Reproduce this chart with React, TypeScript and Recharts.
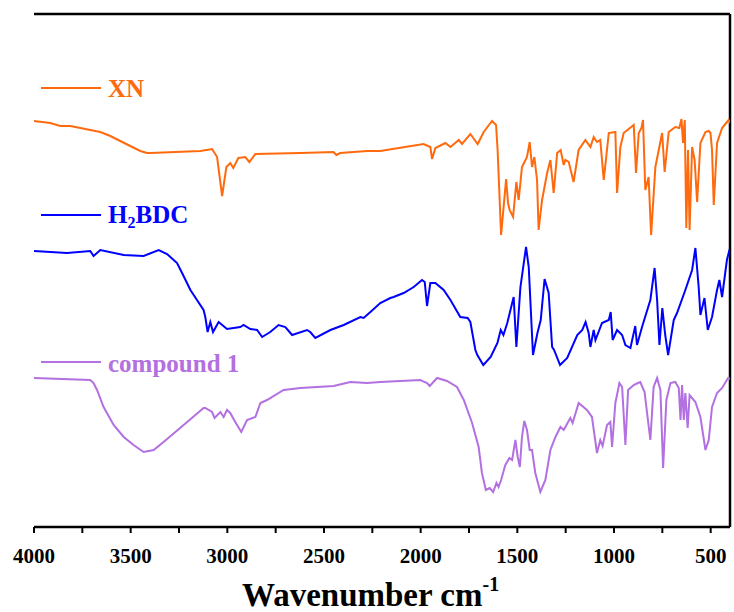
import React from "react";
import { LineChart, Line, XAxis, YAxis, ReferenceLine } from "recharts";

// FT-IR spectra, offset transmittance (a.u.) against wavenumber (cm-1)
const xnWavenumber = [
  4000, 3916, 3864, 3812, 3760, 3709, 3657, 3605, 3554, 3502, 3450, 3415, 3398, 3139, 3079, 3053, 3027,
  3005, 2985, 2969, 2943, 2907, 2886, 2855,
  2622, 2451, 2436, 2416, 2277, 2209, 1985, 1950, 1941, 1924, 1872, 1846, 1803, 1786, 1743, 1705, 1674,
  1631, 1610, 1602, 1584, 1571, 1558, 1548, 1540, 1522, 1505, 1493, 1476, 1450, 1436, 1424, 1412, 1398,
  1390, 1372, 1346, 1329, 1312, 1294, 1276, 1260, 1252, 1234, 1209, 1183, 1148, 1122, 1105, 1088, 1071,
  1053, 1027, 993, 984, 967, 950, 898, 886, 872, 858, 850, 838, 821, 808, 786, 751, 738, 717, 683, 662,
  651, 643, 634, 626, 617, 609, 596, 583, 570, 553, 527, 510, 501, 493, 484, 467, 441, 407, 400,
];
const xnSignal = [
  406, 404, 401, 401, 399, 397, 395, 391, 386, 381, 376, 374, 374, 376, 378, 370, 331,
  360, 364, 359, 369, 370, 365, 373,
  374, 375, 372, 374, 376, 376, 383, 380, 368, 379, 384, 380, 387, 383, 393, 383, 395,
  406, 402, 377, 292, 320, 348, 324, 317, 310, 345, 327, 360, 370, 385, 360, 370, 347,
  297, 327, 354, 367, 334, 374, 377, 362, 367, 365, 345, 377, 387, 380, 390, 385, 387,
  347, 394, 395, 334, 380, 394, 402, 354, 394, 399, 407, 337, 350, 292, 360, 394, 355, 395, 400, 399,
  408, 384, 407, 299, 377, 297, 380, 367, 325, 384, 395, 396, 394, 377, 322, 384, 399, 407, 404,
];

const bdcWavenumber = [
  4000, 3829, 3709, 3692, 3657, 3536, 3433, 3355, 3312, 3260, 3234, 3191, 3157, 3123, 3114, 3102, 3088,
  3074, 3045, 3002, 2933, 2916, 2881, 2846, 2820, 2778, 2735, 2700, 2665, 2588, 2571, 2545, 2467, 2398,
  2312, 2295, 2260, 2209, 2157, 2140, 2088, 2036, 1993, 1979, 1967, 1950, 1924, 1881, 1846, 1795, 1757,
  1743, 1717, 1707, 1676, 1638, 1603, 1586, 1572, 1552, 1519, 1505, 1484, 1455, 1441, 1419, 1396, 1379,
  1359, 1338, 1320, 1310, 1279, 1242, 1190, 1164, 1147, 1131, 1122, 1105, 1096, 1062, 1027, 1017, 1007,
  984, 958, 941, 915, 890, 881, 855, 812, 790, 777, 765, 750, 735, 720, 691, 674, 631, 596, 579, 562,
  553, 532, 515, 493, 467, 455, 441, 416, 403, 400,
];
const bdcSignal = [
  276, 274, 276, 271, 277, 272, 271, 277, 273, 264, 254, 237, 227, 217, 210, 195, 205,
  195, 205, 198, 200, 202, 198, 197, 190, 195, 202, 200, 192, 197, 195, 189, 197, 202,
  210, 209, 215, 224, 229, 230, 234, 240, 247, 245, 221, 244, 244, 237, 227, 210, 209,
  205, 177, 172, 162, 170, 184, 197, 192, 204, 230, 180, 240, 280, 260, 172, 194, 207,
  248, 234, 180, 177, 162, 169, 192, 197, 205, 194, 180, 197, 187, 204, 207, 215, 187,
  197, 192, 182, 179, 201, 182, 200, 227, 259, 227, 182, 219, 192, 172, 207, 214, 237, 257, 279, 240,
  212, 229, 197, 210, 237, 247, 230, 267, 277, 277,
];

const cpdWavenumber = [
  4000, 3709, 3692, 3674, 3640, 3588, 3536, 3485, 3433, 3381, 3330, 3226, 3123, 3114, 3079, 3066, 3036,
  3019, 3002, 2985, 2959, 2928, 2898, 2855, 2829, 2795, 2709, 2622, 2450, 2364, 2277, 2209, 2002, 1967,
  1953, 1915, 1864, 1812, 1777, 1734, 1700, 1683, 1663, 1643, 1625, 1608, 1597, 1584, 1562, 1541, 1527,
  1510, 1498, 1487, 1476, 1464, 1450, 1436, 1424, 1407, 1381, 1355, 1329, 1303, 1277, 1260, 1226, 1214,
  1183, 1140, 1114, 1088, 1071, 1059, 1036, 1019, 1010, 993, 972, 958, 941, 927, 898, 876, 864, 842, 812,
  795, 777, 760, 746, 729, 708, 683, 665, 656, 648, 639, 631, 619, 609, 579, 553, 527, 510, 493, 467, 441,
  410, 400,
];
const cpdSignal = [
  149, 147, 144, 137, 120, 102, 90, 82, 75, 77, 85, 102, 119, 119, 115, 109, 115,
  110, 117, 114, 105, 95, 107, 110, 124, 127, 137, 139, 141, 145, 144, 145, 147, 144,
  141, 149, 146, 140, 127, 104, 80, 54, 37, 39, 35, 44, 40, 47, 62, 69, 67,
  87, 70, 60, 90, 106, 97, 77, 77, 54, 35, 47, 77, 90, 100, 97, 109, 104,
  124, 117, 110, 74, 87, 81, 102, 105, 80, 124, 144, 140, 82, 137, 142, 144, 145, 135, 87,
  140, 149, 137, 59, 127, 144, 145, 139, 107, 142, 107, 134, 99, 132, 125, 110, 77, 87, 120, 134, 139,
  149, 148,
];

const xTicks = [4000, 3750, 3500, 3250, 3000, 2750, 2500, 2250, 2000, 1750, 1500, 1250, 1000, 750, 500];
const xDomain = [400, 4000];
const yDomain = [0, 513];

const series = [
  { name: "XN", color: "#FF6A0E", wn: xnWavenumber, t: xnSignal },
  { name: "H2BDC", color: "#0000FF", wn: bdcWavenumber, t: bdcSignal },
  { name: "compound 1", color: "#B370E0", wn: cpdWavenumber, t: cpdSignal },
];

const toPoints = (wn: number[], t: number[]) => wn.map((w, i) => ({ wn: w, t: t[i] }));

const FONT = "'Liberation Serif', 'Times New Roman', serif";

const WavenumberTick = (props: any) => {
  const { x, y, payload } = props;
  if (payload.value % 500 !== 0) return <g />;
  return (
    <text x={x} y={y + 28} textAnchor="middle" fontFamily={FONT} fontWeight="bold" fontSize={21} fill="#000">
      {payload.value}
    </text>
  );
};

const App = () => {
  const frame = { stroke: "#000", strokeWidth: 2.5 };
  return (
    <div style={{ position: "absolute", left: 0, top: 0, width: 734, height: 612, background: "#fff" }}>
      <LineChart width={734} height={612} margin={{ top: 14, right: 4, bottom: 25, left: 34 }}>
        <XAxis
          type="number"
          dataKey="wn"
          domain={xDomain}
          reversed
          allowDataOverflow
          ticks={xTicks}
          interval={0}
          height={60}
          axisLine={frame}
          tickLine={{ stroke: "#000", strokeWidth: 2 }}
          tickSize={6}
          tick={<WavenumberTick />}
        />
        <YAxis type="number" domain={yDomain} width={0} tick={false} tickLine={false} axisLine={frame} />
        {/* closing the box on top and right */}
        <ReferenceLine y={yDomain[1]} stroke="#000" strokeWidth={2.5} />
        <ReferenceLine x={xDomain[0]} stroke="#000" strokeWidth={2.5} />
        {series.map((s) => (
          <Line
            key={s.name}
            data={toPoints(s.wn, s.t)}
            dataKey="t"
            type="linear"
            stroke={s.color}
            strokeWidth={2}
            dot={false}
            activeDot={false}
            isAnimationActive={false}
          />
        ))}
      </LineChart>
      <svg width={734} height={612} style={{ position: "absolute", left: 0, top: 0, pointerEvents: "none" }}>
        <g fontFamily={FONT} fontWeight="bold">
          <line x1={41} x2={101} y1={88} y2={88} stroke={series[0].color} strokeWidth={2} />
          <text x={108} y={97} fontSize={25} fill={series[0].color}>XN</text>
          <line x1={41} x2={101} y1={215} y2={215} stroke={series[1].color} strokeWidth={2} />
          <text x={108} y={223} fontSize={25} fill={series[1].color}>
            H<tspan fontSize={16} dy={5}>2</tspan><tspan dy={-5}>BDC</tspan>
          </text>
          <line x1={41} x2={101} y1={362} y2={362} stroke={series[2].color} strokeWidth={2} />
          <text x={108} y={372} fontSize={25} fill={series[2].color}>compound 1</text>
          <text x={242} y={606} fontSize={33} fill="#000">
            Wavenumber cm<tspan fontSize={20} dy={-15}>-1</tspan>
          </text>
        </g>
      </svg>
    </div>
  );
};

export default App;
